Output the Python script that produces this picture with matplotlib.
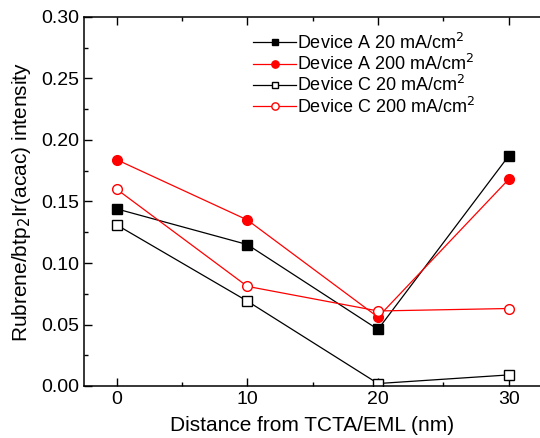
import matplotlib
matplotlib.use("Agg")
import matplotlib.pyplot as plt
from matplotlib.ticker import MultipleLocator, FormatStrFormatter

plt.rcParams["font.family"] = ["Liberation Sans", "DejaVu Sans"]

dist = [0, 10, 20, 30]
a_20 = [0.144, 0.115, 0.046, 0.187]
a_200 = [0.184, 0.135, 0.056, 0.168]
c_20 = [0.131, 0.069, 0.002, 0.009]
c_200 = [0.160, 0.081, 0.061, 0.063]

fig = plt.figure(figsize=(5.4, 4.38), dpi=100)
ax = fig.add_axes([84 / 540, 1 - 386 / 438, 1 - 84 / 540, (386 - 17) / 438])

ax.plot(dist, a_20, "-s", color="black", lw=0.9, ms=6.5, label="Device A 20 mA/cm$^2$")
ax.plot(dist, a_200, "-o", color="red", lw=0.9, ms=7, label="Device A 200 mA/cm$^2$")
ax.plot(dist, c_20, "-s", color="black", mfc="white", lw=0.9, ms=6.5, label="Device C 20 mA/cm$^2$")
ax.plot(dist, c_200, "-o", color="red", mfc="white", lw=0.9, ms=7, label="Device C 200 mA/cm$^2$")

ax.set_xlim(-2.5, 32.4)
ax.set_ylim(0, 0.30)
ax.xaxis.set_major_locator(MultipleLocator(10))
ax.xaxis.set_minor_locator(MultipleLocator(5))
ax.yaxis.set_major_locator(MultipleLocator(0.05))
ax.yaxis.set_minor_locator(MultipleLocator(0.025))
ax.yaxis.set_major_formatter(FormatStrFormatter("%.2f"))
ax.tick_params(which="both", direction="in", top=True, labelsize=14, width=1)
ax.tick_params(which="major", length=6)
ax.tick_params(which="minor", length=3)
ax.spines["right"].set_visible(False)
for s in ["left", "bottom", "top"]:
    ax.spines[s].set_linewidth(1.1)

ax.set_xlabel("Distance from TCTA/EML (nm)", fontsize=15, labelpad=6)
ax.set_ylabel("Rubrene/btp$_2$Ir(acac) intensity", fontsize=15, labelpad=6)
ax.legend(loc="upper left", bbox_to_anchor=(0.335, 1.002), frameon=False, fontsize=13,
          handlelength=2.4, handletextpad=0.05, labelspacing=0.07, markerscale=0.75)

fig.savefig("out.png", dpi=100)
